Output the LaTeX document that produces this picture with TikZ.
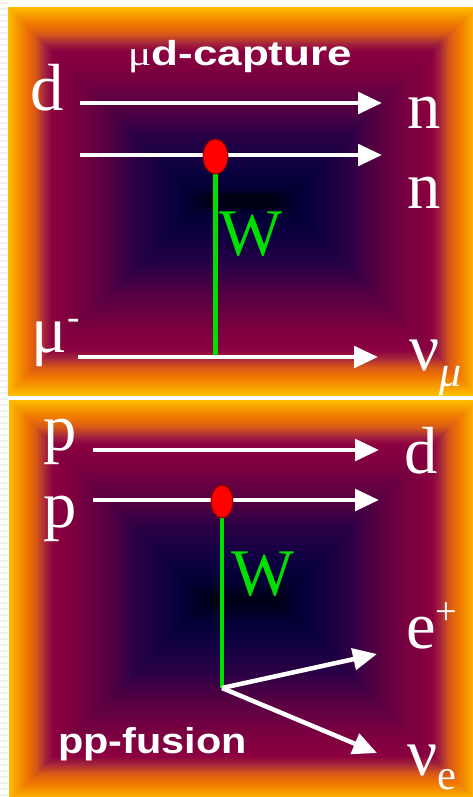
\documentclass[tikz,border=0pt]{standalone}
\usepackage{fontspec}
\setmainfont{Liberation Serif}
\setsansfont{Liberation Sans}
\usetikzlibrary{arrows.meta,shapes.geometric}
\definecolor{c0}{HTML}{FFC000}
\definecolor{c1}{HTML}{F8A000}
\definecolor{c2}{HTML}{F07800}
\definecolor{c3}{HTML}{D85818}
\definecolor{c4}{HTML}{A02040}
\definecolor{c5}{HTML}{8C0040}
\definecolor{c6}{HTML}{780040}
\definecolor{c7}{HTML}{560042}
\definecolor{c8}{HTML}{280045}
\definecolor{c9}{HTML}{0E0042}
\definecolor{c10}{HTML}{020034}
\definecolor{c11}{HTML}{000012}
\definecolor{wgreen}{HTML}{00E000}
\definecolor{vred}{HTML}{FF0000}
\definecolor{vedge}{HTML}{700000}
\newcommand\gradpanel[4]{%
  \foreach \da/\db/\ca/\cb in {0/8/c0/c1,8/18/c1/c2,18/28/c2/c3,28/38/c3/c4,38/45/c4/c5,45/70/c5/c6,70/100/c6/c7,100/130/c7/c8,130/160/c8/c9,160/180/c9/c10,180/202/c10/c11}{%
    \pgfmathtruncatemacro\dend{\db-1}%
    \foreach \d in {\da,...,\dend}{%
      \pgfmathtruncatemacro\pc{100*(\d-\da)/(\db-\da)}%
      \filldraw[\cb!\pc!\ca, line width=0.8pt] ({#1+\d},{#2+\d}) rectangle ({#3-\d},{#4-\d});
    }}}
\tikzset{
  arr/.style={draw=white, line width=3.4pt, -{Triangle[length=18pt,width=16pt]}},
  wline/.style={draw=wgreen, line width=3.6pt},
  vtx/.style={ellipse, fill=vred, draw=vedge, line width=0.6pt, inner sep=0},
  lab/.style={text=white, inner sep=0, anchor=base west, font=\fontsize{50}{50}\selectfont},
  wlab/.style={lab, text=wgreen},
  ttl/.style={text=white, inner sep=0, font=\sffamily\bfseries\fontsize{26}{26}\selectfont}
}
\begin{document}
\begin{tikzpicture}[x=0.75pt,y=-0.75pt]
\useasboundingbox (0,0) rectangle (473,797);
\clip (0,0) rectangle (473,797);
\fill[white] (0,0) rectangle (473,797);
\foreach \s in {2,8,...,797}{\fill[gray!12] (0,\s) rectangle (8,\s+2);}
\begin{scope}
\clip (8,7) rectangle (477,395);
\gradpanel{8}{7}{477}{395}
\end{scope}
\begin{scope}
\clip (9,400) rectangle (477,801);
\gradpanel{9}{400}{477}{801}
\end{scope}
% ---------- top panel ----------
\coordinate (a1s) at (80,103);  \coordinate (a1e) at (382,103);
\coordinate (a2s) at (80,155);  \coordinate (a2e) at (382,155);
\coordinate (a3s) at (78,357);  \coordinate (a3e) at (378,357);
\coordinate (g1e) at (215.5,357);
\node[vtx, minimum width=18.75pt, minimum height=26.25pt] (v1) at (215.5,156.5) {};
\draw[wline] (v1.south) -- (g1e);
\draw[arr] (a1s) -- (a1e);
\draw[arr] (a2s) -- (a2e);
\draw[arr] (a3s) -- (a3e);
\node[vtx, minimum width=18.75pt, minimum height=26.25pt] (v1b) at (215.5,156.5) {};
\node[ttl, anchor=base] (t1) at (240,65) {\scalebox{1.27}[1]{{\rmfamily\mdseries μ}d-capture}};
\node[lab] (d1) at (30,110) {d};
\node[lab] (n1) at (407,128) {n};
\node[lab] (n2) at (407,208) {n};
\node[wlab] (w1) at (219,255) {W};
\node[lab] (mu) at (31,352) {μ{\fontsize{28}{28}\selectfont\raisebox{17pt}{-}}};
\node[lab] (num) at (409,370) {ν{\fontsize{33}{33}\selectfont\raisebox{-12pt}{\itshape μ}}};
% ---------- bottom panel ----------
\coordinate (b1s) at (93,450);  \coordinate (b1e) at (379,450);
\coordinate (b2s) at (93,500);  \coordinate (b2e) at (379,500);
\coordinate (vx) at (222,688);
\coordinate (ee) at (377,654);
\coordinate (ne) at (377,753);
\node[vtx, minimum width=16.5pt, minimum height=24.75pt] (v2) at (222,501.5) {};
\draw[wline] (v2.south) -- (vx);
\draw[arr] (b1s) -- (b1e);
\draw[arr] (b2s) -- (b2e);
\draw[arr] (vx) -- (ee);
\draw[arr] (vx) -- (ne);
\node[vtx, minimum width=16.5pt, minimum height=24.75pt] (v2b) at (222,501.5) {};
\node[lab] (p1) at (43,450) {p};
\node[lab] (p2) at (43,527) {p};
\node[lab] (d2) at (404,473) {d};
\node[wlab] (w2) at (231,595) {W};
\node[lab] (ep) at (406,648) {e{\fontsize{29}{29}\selectfont\raisebox{18pt}{+}}};
\node[lab] (nue) at (407,775) {ν{\fontsize{32}{32}\selectfont\raisebox{-11pt}{e}}};
\node[ttl, anchor=base west] (t2) at (58,753) {\scalebox{1.15}[1]{\fontsize{27}{27}\selectfont pp-fusion}};
\end{tikzpicture}
\end{document}
